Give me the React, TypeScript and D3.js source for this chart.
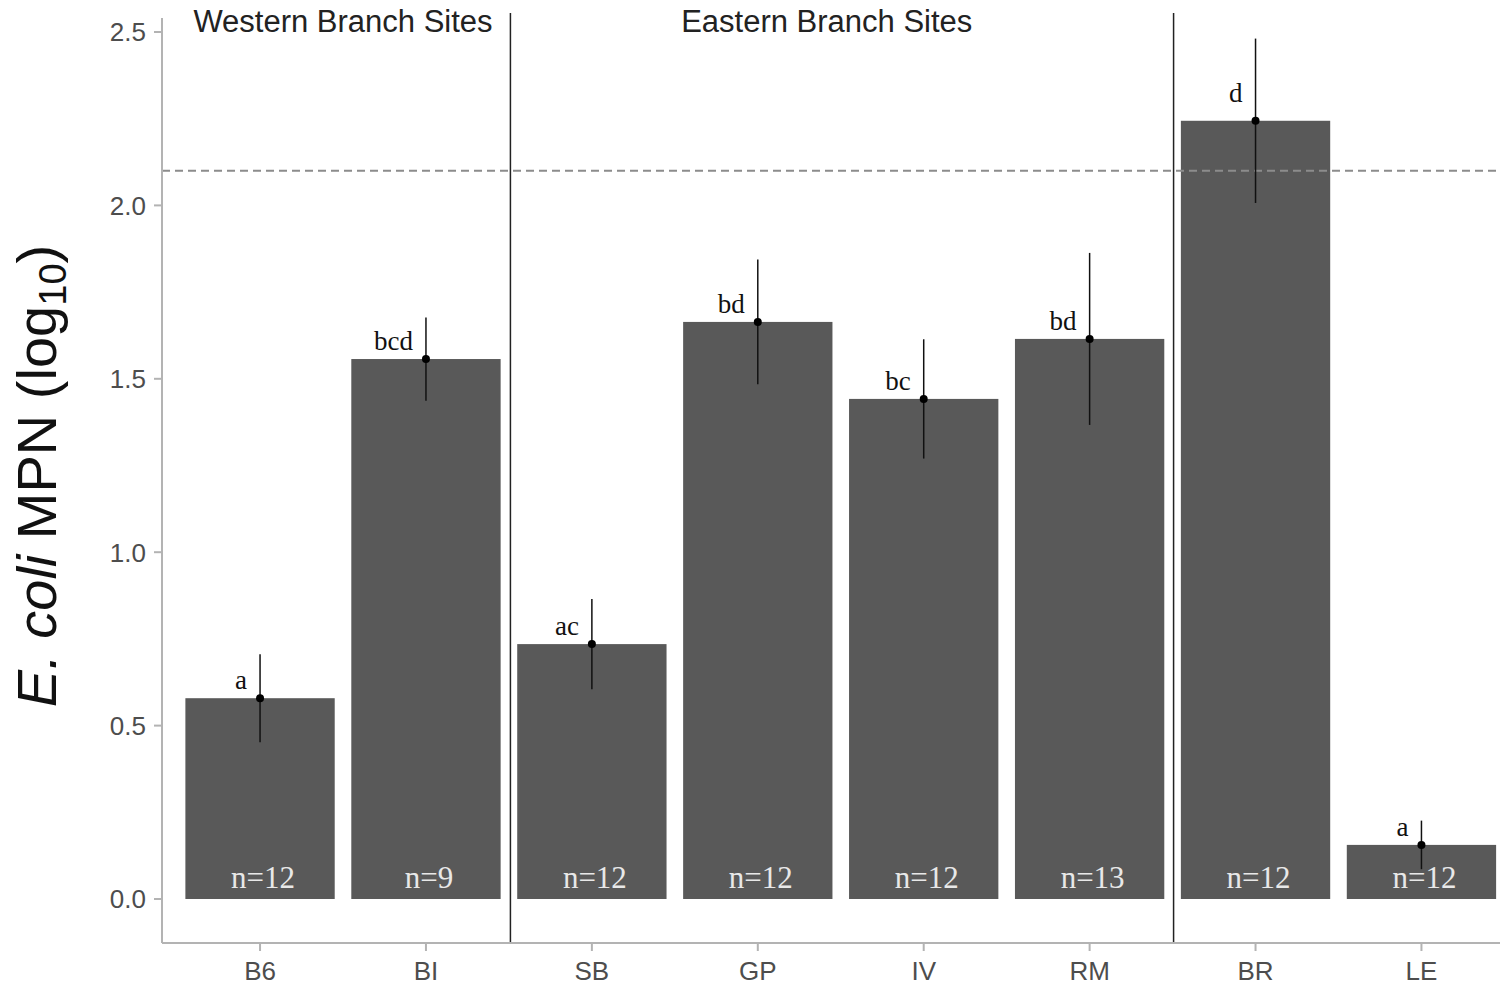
import React from "react";
import * as d3 from "d3";

// Sites along the x axis
const sites = ["B6", "BI", "SB", "GP", "IV", "RM", "BR", "LE"];
// Mean log10 E. coli MPN per site
const means = [0.579, 1.557, 0.735, 1.664, 1.442, 1.615, 2.244, 0.156];
// Half-width of the error bars
const errors = [0.127, 0.12, 0.13, 0.18, 0.172, 0.248, 0.237, 0.07];
// Significance groupings
const groups = ["a", "bcd", "ac", "bd", "bc", "bd", "d", "a"];
// Sample sizes
const sampleSizes = [12, 9, 12, 12, 12, 13, 12, 12];
// Regulatory threshold (log10 of 126 MPN)
const threshold = 2.1;
// Y ticks
const yTicks = [0, 0.5, 1.0, 1.5, 2.0, 2.5];
// Branch groups: label and the sites they span
const branches = [
  { label: "Western Branch Sites", from: "B6", to: "BI", shift: 0 },
  { label: "Eastern Branch Sites", from: "SB", to: "RM", shift: -14 },
];

const W = 1500;
const H = 987;
const left = 162;
const bottom = 943;
const top = 13;

export default function App() {
  const x = d3
    .scaleBand<string>()
    .domain(sites)
    .range([160.5, 1521])
    .paddingInner(0.1)
    .paddingOuter(0.15);
  const y = d3.scaleLinear().domain([0, 2.5]).range([899, 32]);
  const bw = x.bandwidth();
  const cx = (s: string) => (x(s) as number) + bw / 2;
  const step = x.step();
  const sepX = [
    (x("BI") as number) + bw + (step - bw) / 2 + 1.5,
    (x("RM") as number) + bw + (step - bw) / 2 + 1,
  ];
  const sans = "'Liberation Sans', Arial, sans-serif";
  const serif = "'Liberation Serif', 'Times New Roman', serif";

  return (
    <svg
      width={W}
      height={H}
      style={{ position: "absolute", left: 0, top: 0, background: "#fff" }}
    >
      {/* bars */}
      {sites.map((s, i) => (
        <rect
          key={s}
          x={x(s)}
          y={y(means[i])}
          width={bw}
          height={y(0) - y(means[i])}
          fill="#595959"
        />
      ))}
      {/* threshold */}
      <line
        x1={left}
        x2={W}
        y1={y(threshold)}
        y2={y(threshold)}
        stroke="#8c8c8c"
        strokeWidth={2}
        strokeDasharray="8,5"
      />
      {/* error bars */}
      {sites.map((s, i) => (
        <g key={s}>
          <line
            x1={cx(s)}
            x2={cx(s)}
            y1={y(means[i] + errors[i])}
            y2={y(means[i] - errors[i])}
            stroke="#111"
            strokeWidth={1.5}
          />
          <circle cx={cx(s)} cy={y(means[i])} r={4} fill="#000" />
        </g>
      ))}
      {/* group letters */}
      {sites.map((s, i) => (
        <text
          key={s}
          x={cx(s) - 13}
          y={y(means[i]) - (s === "BR" ? 19 : 9)}
          textAnchor="end"
          fontFamily={serif}
          fontSize={27}
          fill="#111"
        >
          {groups[i]}
        </text>
      ))}
      {/* sample sizes */}
      {sites.map((s, i) => (
        <text
          key={s}
          x={cx(s) + 3}
          y={888}
          textAnchor="middle"
          fontFamily={serif}
          fontSize={31}
          fill="#e8e8e8"
        >
          {`n=${sampleSizes[i]}`}
        </text>
      ))}
      {/* branch separators */}
      {sepX.map((sx, i) => (
        <line
          key={i}
          x1={sx}
          x2={sx}
          y1={top}
          y2={bottom}
          stroke="#222"
          strokeWidth={1.5}
        />
      ))}
      {/* branch labels */}
      {branches.map((b) => {
        const x0 = x(b.from) as number;
        const x1 = (x(b.to) as number) + bw;
        return (
          <text
            key={b.label}
            x={(x0 + x1) / 2 + b.shift}
            y={32}
            textAnchor="middle"
            fontFamily={sans}
            fontSize={31}
            fill="#222"
          >
            {b.label}
          </text>
        );
      })}
      {/* axes */}
      <line x1={left} x2={left} y1={18} y2={bottom} stroke="#b3b3b3" strokeWidth={2} />
      <line x1={left} x2={W} y1={bottom} y2={bottom} stroke="#b3b3b3" strokeWidth={2} />
      {yTicks.map((t) => (
        <g key={t}>
          <line x1={left - 8} x2={left} y1={y(t)} y2={y(t)} stroke="#b3b3b3" strokeWidth={2} />
          <text
            x={left - 16}
            y={y(t)}
            dy="0.36em"
            textAnchor="end"
            fontFamily={sans}
            fontSize={26}
            fill="#4d4d4d"
          >
            {t.toFixed(1)}
          </text>
        </g>
      ))}
      {sites.map((s) => (
        <g key={s}>
          <line x1={cx(s)} x2={cx(s)} y1={bottom} y2={bottom + 8} stroke="#b3b3b3" strokeWidth={2} />
          <text
            x={cx(s)}
            y={980}
            textAnchor="middle"
            fontFamily={sans}
            fontSize={26}
            fill="#4d4d4d"
          >
            {s}
          </text>
        </g>
      ))}
      {/* y axis title */}
      <text
        transform={`translate(56,476) rotate(-90)`}
        textAnchor="middle"
        fontFamily={sans}
        fontSize={56}
        fill="#111"
      >
        <tspan fontStyle="italic">E. coli</tspan>
        <tspan> MPN (log</tspan>
        <tspan fontSize={38} dy={10}>10</tspan>
        <tspan dy={-10}>)</tspan>
      </text>
    </svg>
  );
}
